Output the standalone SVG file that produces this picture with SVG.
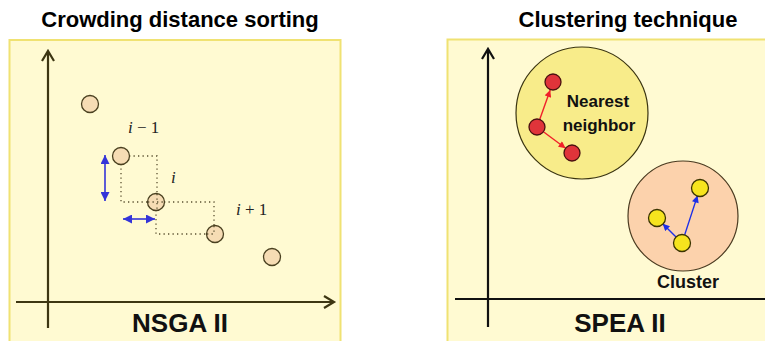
<svg xmlns="http://www.w3.org/2000/svg" width="765" height="341" viewBox="0 0 765 341">
<defs>
<style>
.title{font-family:"Liberation Sans",Arial,sans-serif;font-weight:bold;font-size:22px;fill:#000;text-anchor:middle}
.big{font-family:"Liberation Sans",Arial,sans-serif;font-weight:bold;font-size:26px;fill:#111;text-anchor:middle}
.lbl{font-family:"Liberation Sans",Arial,sans-serif;font-weight:bold;font-size:17px;fill:#111;text-anchor:middle}
.math{font-family:"Liberation Serif","Times New Roman",serif;font-size:17px;fill:#222}
.panel{fill:#fffad2;stroke:#f0e272;stroke-width:2}
.axisL{stroke:#3d3612;stroke-width:2.2;fill:none}
.axisR{stroke:#111;stroke-width:2.2;fill:none}
.pt{fill:#f6dcb4;stroke:#4a4020;stroke-width:1.3}
.red{fill:#e0343a;stroke:#4a1010;stroke-width:1.3}
.yel{fill:#f6e41e;stroke:#3a3400;stroke-width:1.3}
.dot{stroke:#5a5030;stroke-width:1.3;stroke-dasharray:1.3 3.2;fill:none}
.blue{stroke:#3434d8;stroke-width:1.6;fill:none}
.ra{stroke:#f0202a;stroke-width:1.4;fill:none}
.ba{stroke:#1c2ee8;stroke-width:1.4;fill:none}
</style>
<marker id="bh" viewBox="0 0 10 10" refX="10" refY="5" markerWidth="10" markerHeight="9" markerUnits="userSpaceOnUse" orient="auto-start-reverse"><path d="M0,0 L10,5 L0,10 Z" fill="#3434d8"/></marker>
<marker id="rh" viewBox="0 0 10 10" refX="10" refY="5" markerWidth="8" markerHeight="7" markerUnits="userSpaceOnUse" orient="auto"><path d="M0,0 L10,5 L0,10 Z" fill="#f0202a"/></marker>
<marker id="bbh" viewBox="0 0 10 10" refX="10" refY="5" markerWidth="8" markerHeight="7" markerUnits="userSpaceOnUse" orient="auto"><path d="M0,0 L10,5 L0,10 Z" fill="#1c2ee8"/></marker>
</defs>
<rect width="765" height="341" fill="#fff"/>
<text class="title" x="180" y="27">Crowding distance sorting</text>
<text class="title" x="628" y="27">Clustering technique</text>

<g id="panel-nsga">
<rect class="panel" x="9.5" y="40" width="331" height="320"/>
<path class="axisL" d="M48,328 V51 M42,61 L48,51 L54,61"/>
<path class="axisL" d="M16,302 H334 M324,296 L334,302 L324,308"/>
<text class="big" x="180" y="332">NSGA II</text>
</g>

<g id="panel-spea">
<rect class="panel" x="447.5" y="39.5" width="330" height="320"/>
<path class="axisR" d="M488,327 V49 M482,59 L488,49 L494,59"/>
<path class="axisR" d="M455,299 H766"/>
<text class="big" x="620" y="332">SPEA II</text>
</g>

<g id="nearest-neighbor">
<circle cx="582" cy="113" r="66" fill="#f8ec8a" stroke="#3a3410" stroke-width="1.2"/>
<text class="lbl" x="598" y="107">Nearest</text>
<text class="lbl" x="599" y="131">neighbor</text>
</g>
<g id="cluster">
<circle cx="683" cy="216" r="55" fill="#fcd2ac" stroke="#4a3a20" stroke-width="1.2"/>
<text class="lbl" x="688" y="288" style="font-size:18px">Cluster</text>
</g>

<g id="connectors">
<path class="dot" d="M129,156 H157 V194"/>
<path class="dot" d="M121,164 V202 H148"/>
<path class="dot" d="M164,202 H214 V226"/>
<path class="dot" d="M156,210 V234 H207"/>
<line class="blue" x1="105" y1="155" x2="105" y2="201" marker-start="url(#bh)" marker-end="url(#bh)"/>
<line class="blue" x1="123" y1="219" x2="155" y2="219" marker-start="url(#bh)" marker-end="url(#bh)"/>
<line class="ra" x1="539.7" y1="119.5" x2="550.2" y2="90"  marker-end="url(#rh)"/>
<line class="ra" x1="543.4" y1="131.8" x2="565.6" y2="148.2" marker-end="url(#rh)"/>
<line class="ba" x1="684.5" y1="235.4" x2="697.5" y2="195.6" marker-end="url(#bbh)"/>
<line class="ba" x1="676.3" y1="237.3" x2="662.7" y2="223.7" marker-end="url(#bbh)"/>
</g>

<g id="nsga-points">
<circle id="p1" class="pt" cx="90" cy="104" r="8.5"/>
<circle id="p2" class="pt" cx="121" cy="156" r="8.5"/>
<circle id="p3" class="pt" cx="156" cy="202" r="8.5"/>
<circle id="p4" class="pt" cx="215" cy="234" r="8.5"/>
<circle id="p5" class="pt" cx="272" cy="257" r="8.5"/>
<path class="dot" d="M157,194 V210 M148,202 H164 M214,226 V234 M207,234 H214"/>
</g>

<g id="labels-nsga">
<text class="math" x="128" y="133"><tspan font-style="italic">i</tspan> − 1</text>
<text class="math" x="171" y="183" font-style="italic">i</text>
<text class="math" x="236" y="215"><tspan font-style="italic">i</tspan> + 1</text>
</g>

<g id="spea-points">
<circle class="red" cx="553" cy="82" r="8"/>
<circle class="red" cx="537" cy="127" r="8"/>
<circle class="red" cx="572" cy="153" r="8"/>
<circle class="yel" cx="700" cy="188" r="8.5"/>
<circle class="yel" cx="657" cy="218" r="8.5"/>
<circle class="yel" cx="682" cy="243" r="8.5"/>
</g>
</svg>
